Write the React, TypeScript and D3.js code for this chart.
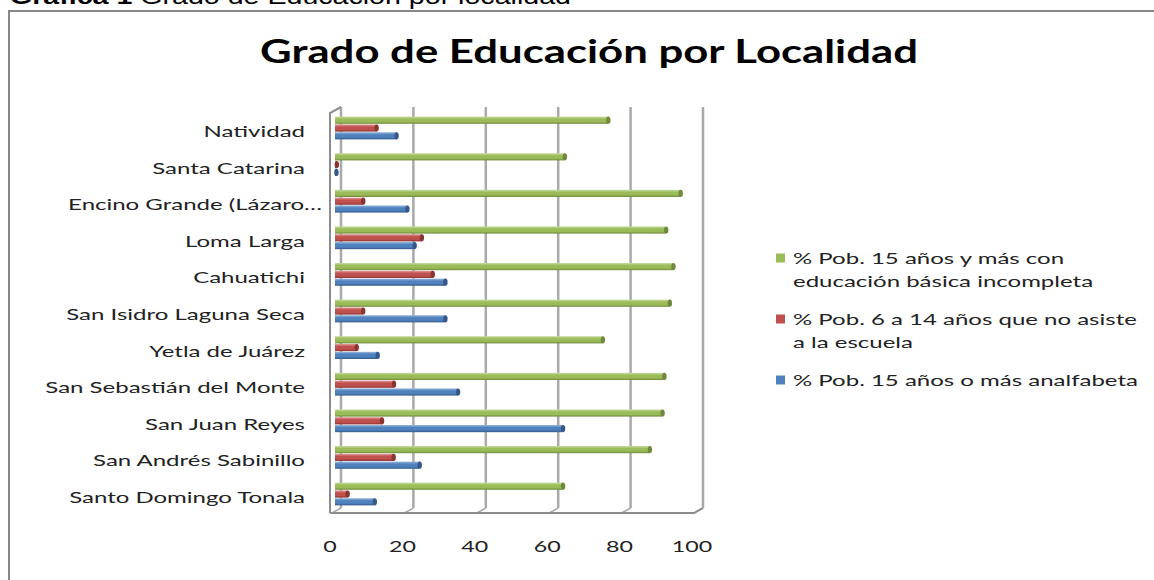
import { useEffect, useRef } from "react";
import * as d3 from "d3";

// localidades, de arriba hacia abajo como aparecen en la gráfica
const categories = [
  "Natividad",
  "Santa Catarina",
  "Encino Grande (Lázaro…",
  "Loma Larga",
  "Cahuatichi",
  "San Isidro Laguna Seca",
  "Yetla de Juárez",
  "San Sebastián del Monte",
  "San Juan Reyes",
  "San Andrés  Sabinillo",
  "Santo Domingo Tonala",
];

const basicaIncompleta = [75.5, 63.5, 95.5, 91.5, 93.5, 92.5, 74, 91, 90.5, 87, 63];
const noAsiste = [11.5, 0.5, 7.8, 24, 27, 7.8, 6, 16.3, 13, 16.2, 3.5];
const analfabeta = [17, 0.4, 20, 22, 30.5, 30.5, 11.8, 34, 63, 23.4, 11];

const ticks = [0, 20, 40, 60, 80, 100];

const seriesNames = [
  ["% Pob. 15 años y más con", "educación básica incompleta"],
  ["% Pob. 6 a 14 años que no asiste", "a la escuela"],
  ["% Pob. 15 años o más analfabeta"],
];

const colors = [
  { light: "#c6dc9e", base: "#9bbb59", dark: "#6f8a3c" },
  { light: "#de9b99", base: "#c0504d", dark: "#8a3431" },
  { light: "#9ab8dd", base: "#4f81bd", dark: "#34588a" },
];

export default function App() {
  const ref = useRef(null);

  useEffect(() => {
    const svg = d3.select(ref.current);
    svg.selectAll("*").remove();

    const sx = 1.6; // text in the reference is stretched sideways
    const font = "Lato, 'Open Sans', sans-serif";

    const defs = svg.append("defs");
    colors.forEach((c, i) => {
      const g = defs
        .append("linearGradient")
        .attr("id", `bar${i}`)
        .attr("x1", 0)
        .attr("y1", 0)
        .attr("x2", 0)
        .attr("y2", 1);
      g.append("stop").attr("offset", "0%").attr("stop-color", c.light);
      g.append("stop").attr("offset", "35%").attr("stop-color", c.base);
      g.append("stop").attr("offset", "70%").attr("stop-color", c.base);
      g.append("stop").attr("offset", "100%").attr("stop-color", c.dark);
    });

    // caption over the frame (cut at the top of the page, as in the source)
    const cap = svg
      .append("text")
      .attr("transform", `translate(10,4) scale(1.3,1)`)
      .attr("font-family", "'Liberation Sans', Arial, sans-serif")
      .attr("font-size", 22)
      .attr("fill", "#000");
    cap.append("tspan").attr("font-weight", "bold").text("Gráfica 1");
    cap.append("tspan").text(" Grado de Educación por localidad");

    // chart frame
    svg
      .append("rect")
      .attr("x", 9)
      .attr("y", 11)
      .attr("width", 1200)
      .attr("height", 700)
      .attr("fill", "#fff")
      .attr("stroke", "#878787")
      .attr("stroke-width", 2);

    svg
      .append("text")
      .attr("x", 589)
      .attr("y", 63)
      .attr("text-anchor", "middle")
      .attr("font-family", font)
      .attr("font-weight", "bold")
      .attr("font-size", 32)
      .attr("textLength", 658)
      .attr("lengthAdjust", "spacingAndGlyphs")
      .attr("fill", "#000")
      .text("Grado de Educación por Localidad");

    const x = d3.scaleLinear().domain([0, 100]).range([335, 697]);
    const xBack = (v) => x(v) + 6;
    const xFront = (v) => x(v) - 3;
    const backTop = 107;
    const backBottom = 508;
    const frontBottom = 513;
    const frontTop = 113;

    const y = d3.scaleBand().domain(categories).range([109.7, 512.3]).padding(0);
    const keys = ["b", "n", "a"];
    const ySub = d3.scaleBand().domain(keys).range([-12, 12]).padding(0.08);

    const grid = svg.append("g");
    grid
      .selectAll("line.grid")
      .data(ticks)
      .join("line")
      .attr("x1", (d) => xBack(d))
      .attr("x2", (d) => xBack(d))
      .attr("y1", backTop)
      .attr("y2", backBottom)
      .attr("stroke", "#a9a9a9")
      .attr("stroke-width", 2.5);
    grid
      .selectAll("line.floor")
      .data(ticks)
      .join("line")
      .attr("x1", (d) => xBack(d))
      .attr("x2", (d) => xFront(d))
      .attr("y1", backBottom)
      .attr("y2", frontBottom)
      .attr("stroke", "#a9a9a9")
      .attr("stroke-width", 1.5);

    // walls
    svg
      .append("path")
      .attr(
        "d",
        `M${xFront(0) - 2},${frontBottom} L${xFront(0) - 2},${frontTop} L${xBack(0)},${backTop}` +
          ` M${xFront(0) - 2},${frontBottom} L${xFront(100)},${frontBottom} L${xBack(100)},${backBottom}`
      )
      .attr("fill", "none")
      .attr("stroke", "#8c8c8c")
      .attr("stroke-width", 2);

    const series = [basicaIncompleta, noAsiste, analfabeta];
    const h = ySub.bandwidth();

    series.forEach((vals, si) => {
      const g = svg.append("g");
      const rows = categories.map((c, i) => ({ c, v: vals[i] }));
      const yy = (d) => y(d.c) + y.bandwidth() / 2 + ySub(keys[si]);
      g.selectAll("rect")
        .data(rows)
        .join("rect")
        .attr("x", x(0))
        .attr("y", yy)
        .attr("width", (d) => x(d.v) - x(0))
        .attr("height", h)
        .attr("fill", `url(#bar${si})`);
      g.selectAll("ellipse")
        .data(rows)
        .join("ellipse")
        .attr("cx", (d) => x(d.v))
        .attr("cy", (d) => yy(d) + h / 2)
        .attr("rx", 2.2)
        .attr("ry", h / 2)
        .attr("fill", colors[si].dark);
    });

    // category labels
    svg
      .append("g")
      .attr("transform", `scale(${sx},1)`)
      .selectAll("text")
      .data(categories)
      .join("text")
      .attr("x", (d) => (d.endsWith("…") ? 322 : 305) / sx)
      .attr("y", (d) => y(d) + y.bandwidth() / 2 + 3)
      .attr("dominant-baseline", "central")
      .attr("text-anchor", "end")
      .attr("font-family", font)
      .attr("font-size", 15)
      .attr("fill", "#222")
      .text((d) => d);

    // value axis labels
    svg
      .append("g")
      .attr("transform", `scale(1.55,1)`)
      .selectAll("text")
      .data(ticks)
      .join("text")
      .attr("x", (d) => (x(d) - 5) / 1.55)
      .attr("y", 546)
      .attr("dominant-baseline", "central")
      .attr("text-anchor", "middle")
      .attr("font-family", font)
      .attr("font-size", 15)
      .attr("fill", "#222")
      .text((d) => d);

    // legend
    const leg = svg.append("g");
    seriesNames.forEach((lines, i) => {
      const top = 258 + i * 61;
      leg
        .append("rect")
        .attr("x", 776)
        .attr("y", top - 4.5)
        .attr("width", 9)
        .attr("height", 9)
        .attr("fill", colors[i].base);
      leg
        .append("g")
        .attr("transform", `scale(${sx},1)`)
        .selectAll("text")
        .data(lines)
        .join("text")
        .attr("x", 793 / sx)
        .attr("y", (_, j) => top + j * 23)
        .attr("dominant-baseline", "central")
        .attr("font-family", font)
        .attr("font-size", 15)
        .attr("fill", "#222")
        .text((d) => d);
    });
  }, []);

  return (
    <div style={{ position: "absolute", left: 0, top: 0 }}>
      <svg ref={ref} width={1154} height={580} style={{ display: "block" }}></svg>
    </div>
  );
}
